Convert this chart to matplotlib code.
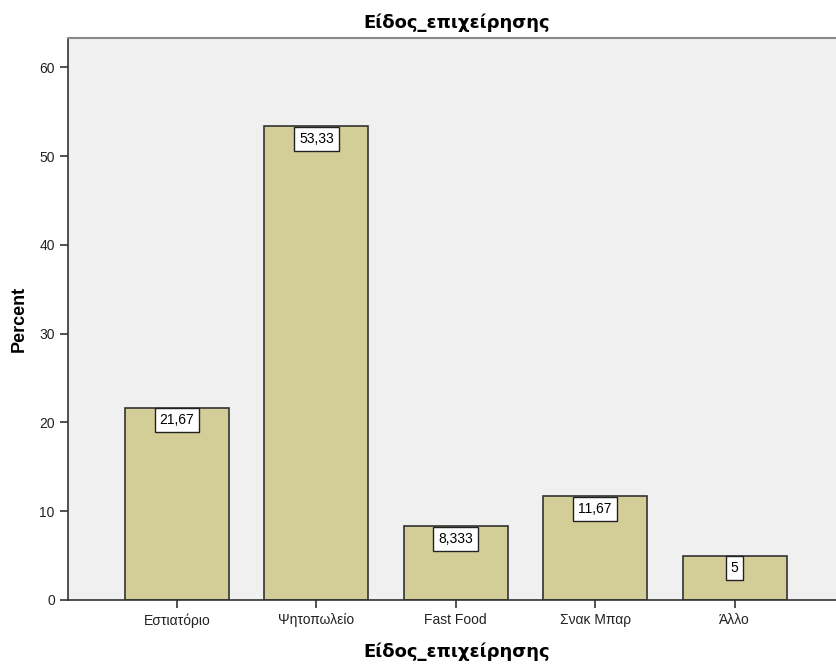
import matplotlib
matplotlib.use("Agg")
import matplotlib.pyplot as plt

categories = ["Εστιατόριο", "Ψητοπωλείο", "Fast Food", "Σνακ Μπαρ", "Άλλο"]
percent = [21.67, 53.33, 8.333, 11.67, 5.0]
value_labels = ["21,67", "53,33", "8,333", "11,67", "5"]
yticks = [0, 10, 20, 30, 40, 50, 60]

plt.rcParams["font.family"] = ["Liberation Sans", "DejaVu Sans"]

fig = plt.figure(figsize=(8.37, 6.66), dpi=100)
ax = fig.add_axes([0.0812, 0.0991, 1.0 - 0.0812 + 0.01, 0.943 - 0.0991])
ax.set_facecolor("#F0F0F0")

x = list(range(len(categories)))
ax.bar(x, percent, width=0.746, color="#D3CE97", edgecolor="#333333",
       linewidth=1.2, zorder=2)

# value boxes hang just under the top of each bar
for xi, v, lbl in zip(x, percent, value_labels):
    ax.annotate(lbl, (xi, v), xytext=(0, -12.5), textcoords="offset pixels",
                ha="center", va="center", fontsize=10, zorder=3,
                bbox=dict(boxstyle="square,pad=0.36", fc="white",
                          ec="#222222", lw=1.0))

ax.set_xlim(-0.782, 4.735 + 0.01 * 8.37 * 100 / 139.4)
ax.set_ylim(0, 63.3)
ax.set_yticks(yticks)
ax.set_xticks(x)
ax.set_xticklabels(categories)
ax.tick_params(axis="both", direction="out", length=6, width=1.2,
               color="#333333", labelsize=10, labelcolor="#222222")

ax.spines["right"].set_visible(False)
ax.spines["top"].set_color("#888888")
ax.spines["top"].set_linewidth(1.5)
for side in ["left", "bottom"]:
    ax.spines[side].set_color("#333333")
    ax.spines[side].set_linewidth(1.2)

ax.set_title("Είδος_επιχείρησης", fontsize=13, fontweight="bold",
             family="DejaVu Sans", pad=7)
ax.set_xlabel("Είδος_επιχείρησης", fontsize=13, fontweight="bold",
              family="DejaVu Sans", labelpad=11)
ax.set_ylabel("Percent", fontsize=13, fontweight="bold", labelpad=8)

fig.savefig("out.png", dpi=100)
